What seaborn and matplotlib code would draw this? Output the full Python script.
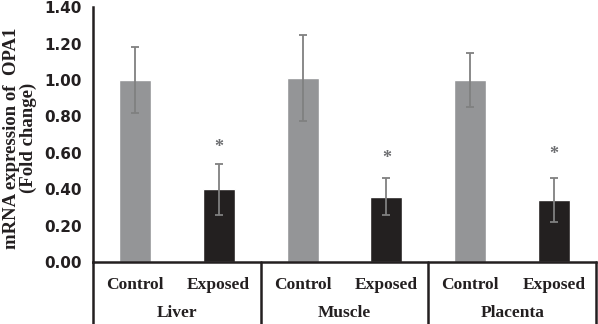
import seaborn as sns
import matplotlib.pyplot as plt
import pandas as pd

tissues = ['Liver', 'Muscle', 'Placenta']
groups = ['Control', 'Exposed']
control_mean = [1.00, 1.01, 1.00]
control_err = [0.18, 0.235, 0.15]
exposed_mean = [0.40, 0.36, 0.34]
exposed_err = [0.14, 0.10, 0.12]
star_y = [0.63, 0.57, 0.59]
yticks = [0.0, 0.2, 0.4, 0.6, 0.8, 1.0, 1.2, 1.4]

rows = []
for i, t in enumerate(tissues):
    rows.append({'bar': t + ' Control', 'tissue': t, 'group': 'Control',
                 'value': control_mean[i], 'err': control_err[i]})
    rows.append({'bar': t + ' Exposed', 'tissue': t, 'group': 'Exposed',
                 'value': exposed_mean[i], 'err': exposed_err[i]})
df = pd.DataFrame(rows)

sns.set_style('white')
plt.rcParams['font.family'] = ['Liberation Serif', 'DejaVu Serif']
plt.rcParams['font.weight'] = 'bold'

fig = plt.figure(figsize=(5.98, 3.24), dpi=100)
ax = fig.add_axes([0.1555, 0.191, 0.8412, 0.787])

sns.barplot(data=df, x='bar', y='value', hue='group', dodge=False,
            palette={'Control': '#939598', 'Exposed': '#231f20'},
            width=0.38, legend=False, ax=ax)

pos = list(range(len(df)))
ax.errorbar(pos, df['value'], yerr=df['err'], fmt='none', ecolor='#808080',
            elinewidth=1.3, capsize=3, capthick=1.3)

# significance stars above exposed bars
for i, t in enumerate(tissues):
    ax.text(2 * i + 1, star_y[i], '*', ha='center', va='center',
            fontsize=13, color='#6d6e71')

ax.set_ylim(0, 1.4)
ax.set_xlim(-0.5, 5.5)
ax.set_yticks(yticks)
ax.set_yticklabels(['%.2f' % v for v in yticks], fontsize=11, fontweight='bold',
                   family='DejaVu Sans', color='#231f20')
ax.set_xticks(pos)
ax.set_xticklabels([g for _ in tissues for g in groups], fontsize=12.5,
                   fontweight='bold', color='#231f20')
ax.tick_params(axis='x', length=0, pad=11)
ax.tick_params(axis='y', length=0, pad=8)
ax.set_xlabel('')
ax.set_ylabel('mRNA expression of  OPA1\n(Fold change)', fontsize=13.5,
              fontweight='bold', linespacing=1.0, color='#231f20')
ax.yaxis.set_label_coords(-0.111, 0.486)

for s in ['top', 'right']:
    ax.spines[s].set_visible(False)
ax.spines['left'].set_linewidth(1.8)
ax.spines['bottom'].set_linewidth(1.8)
ax.spines['left'].set_color('#231f20')
ax.spines['bottom'].set_color('#231f20')

# grouping lines below the axis
tr = ax.get_xaxis_transform()
for xb in [-0.5, 1.5, 3.5, 5.5]:
    ax.plot([xb, xb], [0, -0.26], transform=tr, color='#231f20', lw=1.8,
            clip_on=False)
for i, t in enumerate(tissues):
    ax.text(2 * i + 0.5, -0.2, t, transform=tr, ha='center', va='center',
            fontsize=12.5, fontweight='bold', color='#231f20')

fig.savefig('out.png', dpi=100)
